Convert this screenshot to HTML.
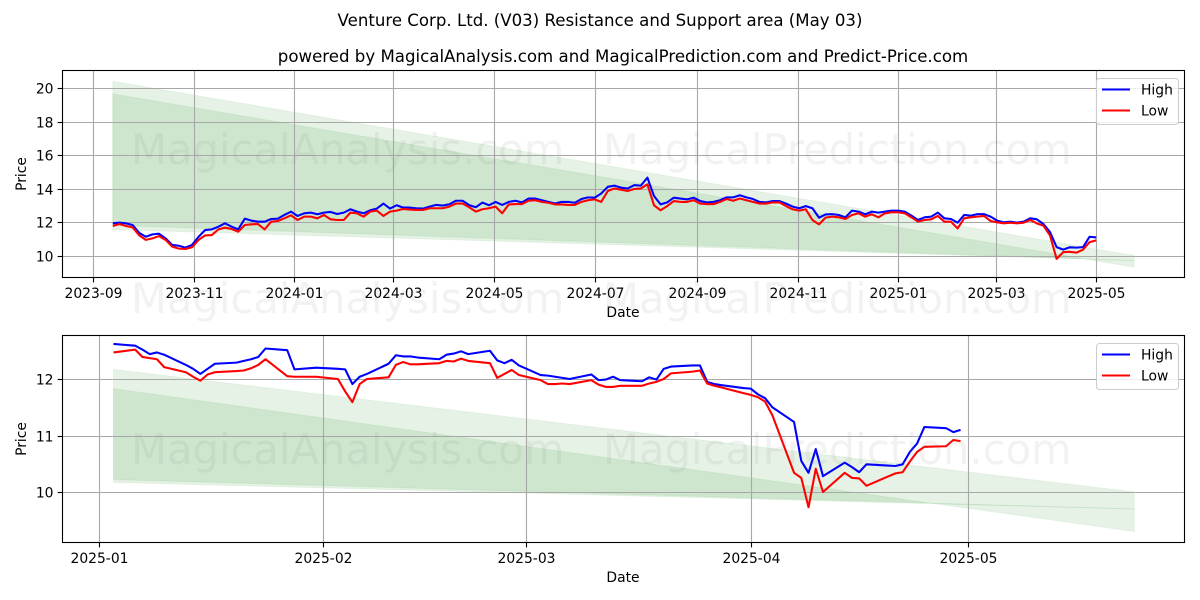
<!DOCTYPE html>
<html>
<head>
<meta charset="utf-8">
<title>Venture Corp. Ltd. (V03) Resistance and Support area</title>
<style>
html,body{margin:0;padding:0;background:#fff;}
svg{display:block;font-family:"DejaVu Sans","Liberation Sans",sans-serif;}
</style>
</head>
<body>
<svg id="chart" xmlns="http://www.w3.org/2000/svg" width="1200" height="600" viewBox="0 0 1200 600">
<rect x="0" y="0" width="1200" height="600" fill="#ffffff"/>
<text x="600" y="26" font-size="16.6" text-anchor="middle" fill="#000">Venture Corp. Ltd. (V03) Resistance and Support area (May 03)</text>
<text x="623" y="62" font-size="16.62" text-anchor="middle" fill="#000">powered by MagicalAnalysis.com and MagicalPrediction.com and Predict-Price.com</text>
<g id="top-panel"></g>
<g id="bottom-panel"></g>
<text x="623" y="317" font-size="13.89" text-anchor="middle">Date</text>
<text x="623" y="582" font-size="13.89" text-anchor="middle">Date</text>
<text transform="translate(26,174) rotate(-90)" font-size="13.89" text-anchor="middle">Price</text>
<text transform="translate(26,439) rotate(-90)" font-size="13.89" text-anchor="middle">Price</text>
<g font-size="41.67" fill="#808080" fill-opacity="0.1">
<text x="131" y="164">MagicalAnalysis.com</text>
<text x="603" y="164">MagicalPrediction.com</text>
<text x="131" y="313">MagicalAnalysis.com</text>
<text x="603" y="313">MagicalPrediction.com</text>
<text x="131" y="464">MagicalAnalysis.com</text>
<text x="603" y="464">MagicalPrediction.com</text>
</g>
</svg>
<script>
// ---------- top panel data (one sample every 4 days from the start date) ----------
const topStartDate = "2023-09-13";
const topStepDays = 4;
const topHigh = [
11.92,11.96,11.92,11.82,11.35,11.12,11.26,11.30,11.02,10.63,
10.58,10.47,10.63,11.12,11.52,11.56,11.72,11.92,11.72,11.56,
12.20,12.08,12.02,12.02,12.18,12.20,12.42,12.62,12.36,12.52,
12.56,12.46,12.56,12.60,12.48,12.56,12.76,12.62,12.52,12.70,
12.80,13.10,12.80,13.00,12.86,12.86,12.82,12.80,12.92,13.02,
12.98,13.06,13.27,13.27,13.01,12.88,13.16,13.00,13.20,13.02,
13.20,13.27,13.17,13.40,13.40,13.30,13.20,13.10,13.20,13.20,
13.15,13.37,13.47,13.45,13.70,14.10,14.17,14.05,14.00,14.20,
14.17,14.65,13.55,13.05,13.17,13.45,13.40,13.35,13.45,13.25,
13.17,13.20,13.30,13.47,13.47,13.60,13.47,13.37,13.20,13.17,
13.25,13.25,13.10,12.92,12.82,12.95,12.82,12.26,12.45,12.47,
12.42,12.28,12.68,12.62,12.46,12.62,12.56,12.62,12.68,12.68,
12.62,12.38,12.12,12.28,12.32,12.56,12.22,12.18,11.96,12.42,
12.38,12.47,12.47,12.32,12.08,11.98,12.02,11.96,12.02,12.22,
12.16,11.88,11.40,10.50,10.35,10.49,10.47,10.50,11.12,11.08];
const topLow = [
11.76,11.88,11.76,11.68,11.20,10.93,11.02,11.16,10.93,10.53,
10.41,10.39,10.49,10.93,11.20,11.22,11.56,11.66,11.58,11.42,
11.82,11.86,11.88,11.56,12.02,12.06,12.22,12.40,12.12,12.32,
12.32,12.22,12.42,12.16,12.12,12.12,12.56,12.52,12.32,12.62,
12.68,12.36,12.62,12.68,12.78,12.74,12.72,12.72,12.82,12.82,
12.82,12.92,13.10,13.10,12.88,12.62,12.76,12.82,12.92,12.52,
13.05,13.07,13.07,13.27,13.30,13.20,13.15,13.05,13.05,13.02,
13.02,13.20,13.30,13.35,13.20,13.85,14.00,13.93,13.85,13.97,
14.00,14.25,13.00,12.70,12.95,13.25,13.20,13.20,13.30,13.10,
13.07,13.07,13.20,13.37,13.27,13.40,13.30,13.20,13.10,13.10,
13.17,13.17,12.95,12.76,12.68,12.76,12.12,11.86,12.26,12.32,
12.28,12.18,12.42,12.52,12.32,12.46,12.28,12.52,12.58,12.58,
12.52,12.28,12.02,12.12,12.16,12.36,12.02,12.02,11.62,12.22,
12.28,12.32,12.36,12.06,11.98,11.92,11.96,11.92,11.96,12.12,
11.92,11.78,11.20,9.80,10.20,10.22,10.17,10.35,10.80,10.90];
const topXTicks = ["2023-09","2023-11","2024-01","2024-03","2024-05","2024-07","2024-09","2024-11","2025-01","2025-03","2025-05"];
const topYTicks = [10,12,14,16,18,20];
const topBandDates = ["2023-09-13","2025-05-24"];
const topBandAUpper = [20.40,10.00];
const topBandALower = [11.55,9.70];
const topBandBUpper = [19.65,9.30];
const topBandBLower = [11.80,9.70];

// ---------- bottom panel data ----------
const bottomDates = ["2025-01-03","2025-01-06","2025-01-07","2025-01-08","2025-01-09","2025-01-10","2025-01-13","2025-01-14","2025-01-15","2025-01-16","2025-01-17","2025-01-20","2025-01-21","2025-01-22","2025-01-23","2025-01-24","2025-01-27","2025-01-28","2025-01-31","2025-02-03","2025-02-04","2025-02-05","2025-02-06","2025-02-07","2025-02-10","2025-02-11","2025-02-12","2025-02-13","2025-02-14","2025-02-17","2025-02-18","2025-02-19","2025-02-20","2025-02-21","2025-02-24","2025-02-25","2025-02-26","2025-02-27","2025-02-28","2025-03-03","2025-03-04","2025-03-05","2025-03-06","2025-03-07","2025-03-10","2025-03-11","2025-03-12","2025-03-13","2025-03-14","2025-03-17","2025-03-18","2025-03-19","2025-03-20","2025-03-21","2025-03-24","2025-03-25","2025-03-26","2025-03-27","2025-03-28","2025-03-31","2025-04-01","2025-04-02","2025-04-03","2025-04-04","2025-04-07","2025-04-08","2025-04-09","2025-04-10","2025-04-11","2025-04-14","2025-04-15","2025-04-16","2025-04-17","2025-04-21","2025-04-22","2025-04-23","2025-04-24","2025-04-25","2025-04-28","2025-04-29","2025-04-30"];
const bottomHigh = [
12.62,12.59,12.52,12.44,12.47,12.43,12.25,12.18,12.09,12.18,12.27,12.29,12.32,12.35,12.39,12.54,12.51,12.17,12.20,12.18,12.17,11.91,12.04,12.09,12.27,12.42,12.40,12.40,12.38,12.35,12.43,12.45,
12.49,12.44,12.50,12.33,12.28,12.34,12.24,12.07,12.06,12.04,12.02,12.00,12.08,11.98,11.99,12.04,11.98,11.96,12.03,11.99,12.18,12.22,12.24,12.24,11.95,11.91,11.89,11.84,11.83,11.73,11.66,11.50,
11.24,10.55,10.34,10.76,10.28,10.52,10.44,10.35,10.49,10.46,10.49,10.71,10.86,11.15,11.13,11.06,11.10];
const bottomLow = [
12.47,12.52,12.39,12.37,12.35,12.21,12.12,12.04,11.97,12.08,12.12,12.14,12.15,12.19,12.25,12.35,12.05,12.04,12.04,12.00,11.78,11.59,11.91,12.00,12.03,12.25,12.30,12.26,12.26,12.28,12.32,12.31,
12.36,12.32,12.28,12.02,12.09,12.16,12.07,11.98,11.91,11.91,11.92,11.91,11.98,11.90,11.86,11.86,11.88,11.88,11.92,11.95,12.00,12.10,12.13,12.15,11.92,11.88,11.85,11.75,11.72,11.68,11.60,11.36,
10.34,10.25,9.73,10.41,10.00,10.34,10.25,10.24,10.11,10.33,10.35,10.54,10.71,10.80,10.81,10.92,10.90];
const bottomXTicks = ["2025-01","2025-02","2025-03","2025-04","2025-05"];
const bottomYTicks = [10,11,12];
const bottomBandDates = ["2025-01-03","2025-05-24"];
const bottomBandAUpper = [12.17,10.00];
const bottomBandALower = [10.17,9.70];
const bottomBandBUpper = [11.83,9.30];
const bottomBandBLower = [10.22,9.70];

const legendEntries = ["High","Low"];

// ---------- helpers ----------
const NS = "http://www.w3.org/2000/svg";
const BLUE = "#0000ff", RED = "#ff0000";
function make(tag, parent, attrs){
  const el = document.createElementNS(NS, tag);
  for (const k in attrs) el.setAttribute(k, attrs[k]);
  parent.appendChild(el);
  return el;
}
function dayNum(s){
  const p = s.split("-").map(Number);
  return Date.UTC(p[0], p[1]-1, p[2] || 1) / 86400000;
}
function polyPath(xs, ys){
  return xs.map((x,i)=>(i?"L":"M")+x.toFixed(2)+" "+ys[i].toFixed(2)).join(" ");
}
function drawPanel(root, cfg){
  const L = 62.5, R = 1184.5;
  const xScale = d => cfg.xA + (dayNum(d) - dayNum(cfg.xRef)) * cfg.xPerDay;
  const yScale = v => cfg.y0 + (v - cfg.v0) * cfg.yPerUnit;

  // bands
  [[cfg.bandAUpper, cfg.bandALower, "resistance-band"], [cfg.bandBUpper, cfg.bandBLower, "support-band"]].forEach(b=>{
    const x0 = xScale(cfg.bandDates[0]), x1 = xScale(cfg.bandDates[1]);
    const d = "M"+x0+" "+yScale(b[0][0])+" L"+x1+" "+yScale(b[0][1])+" L"+x1+" "+yScale(b[1][1])+" L"+x0+" "+yScale(b[1][0])+" Z";
    const el = make("path", root, {d:d, fill:"#008000", "fill-opacity":"0.1", stroke:"#008000", "stroke-opacity":"0.06", "stroke-width":"1"});
    
    
  });

  // grid + ticks
  cfg.xTicks.forEach(t=>{
    const x = Math.round(xScale(t)) + 0.5;
    const g = make("line", root, {x1:x, x2:x, y1:cfg.top, y2:cfg.bottom, stroke:"#a8a8a8", "stroke-width":"1.1"});
    
    
    const m = make("line", root, {x1:x, x2:x, y1:cfg.bottom, y2:cfg.bottom+4.9, stroke:"#000", "stroke-width":"1.1"});
    
    
    const l = make("text", root, {x:x, y:cfg.bottom+20.5, "font-size":"13.89", "text-anchor":"middle", fill:"#000"});
    
    
    l.textContent = t;
  });
  cfg.yTicks.forEach(t=>{
    const y = Math.round(yScale(t)) + 0.5;
    const g = make("line", root, {x1:L, x2:R, y1:y, y2:y, stroke:"#a8a8a8", "stroke-width":"1.1"});
    
    
    const m = make("line", root, {x1:L-4.9, x2:L, y1:y, y2:y, stroke:"#000", "stroke-width":"1.1"});
    
    
    const l = make("text", root, {x:L-9, y:y+5, "font-size":"13.89", "text-anchor":"end", fill:"#000"});
    
    
    l.textContent = t;
  });

  // series
  const xs = cfg.dates.map(xScale);
  const hi = make("path", root, {d:polyPath(xs, cfg.high.map(yScale)), fill:"none", stroke:BLUE, "stroke-width":"2.08", "stroke-linejoin":"round"});
  
  
  const lo = make("path", root, {d:polyPath(xs, cfg.low.map(yScale)), fill:"none", stroke:RED, "stroke-width":"2.08", "stroke-linejoin":"round"});
  
  

  // frame
  const f = make("rect", root, {x:L, y:cfg.top, width:R-L, height:cfg.bottom-cfg.top, fill:"none", stroke:"#000", "stroke-width":"1.1"});
  
  

  // legend
  const box = make("rect", root, {x:1096.5, y:cfg.top+8, width:82, height:46, rx:3, fill:"#fff", "fill-opacity":"0.8", stroke:"#cccccc", "stroke-width":"1"});
  
  
  legendEntries.forEach((name,i)=>{
    const y = cfg.top + 19 + i*21;
    const s = make("line", root, {x1:1102, x2:1130, y1:y, y2:y, stroke:i?RED:BLUE, "stroke-width":"2.08"});
    
    
    const t = make("text", root, {x:1141, y:y+5, "font-size":"13.89", fill:"#000"});
    
    
    t.textContent = name;
  });
}

// ---------- build ----------
const topDates = topHigh.map((_,i)=>{
  const d = new Date((dayNum(topStartDate) + i*topStepDays) * 86400000);
  return d.toISOString().slice(0,10);
});
drawPanel(document.getElementById("top-panel"), {
  top:70.5, bottom:277.5, xA:93, xRef:"2023-09-01", xPerDay:1.65, y0:255.5, v0:10, yPerUnit:-16.75,
  dates:topDates, high:topHigh, low:topLow, xTicks:topXTicks, yTicks:topYTicks,
  bandDates:topBandDates, bandAUpper:topBandAUpper, bandALower:topBandALower, bandBUpper:topBandBUpper, bandBLower:topBandBLower
});
drawPanel(document.getElementById("bottom-panel"), {
  top:335.5, bottom:542.5, xA:99, xRef:"2025-01-01", xPerDay:7.24, y0:492, v0:10, yPerUnit:-56.5,
  dates:bottomDates, high:bottomHigh, low:bottomLow, xTicks:bottomXTicks, yTicks:bottomYTicks,
  bandDates:bottomBandDates, bandAUpper:bottomBandAUpper, bandALower:bottomBandALower, bandBUpper:bottomBandBUpper, bandBLower:bottomBandBLower
});
</script>
</body>
</html>
